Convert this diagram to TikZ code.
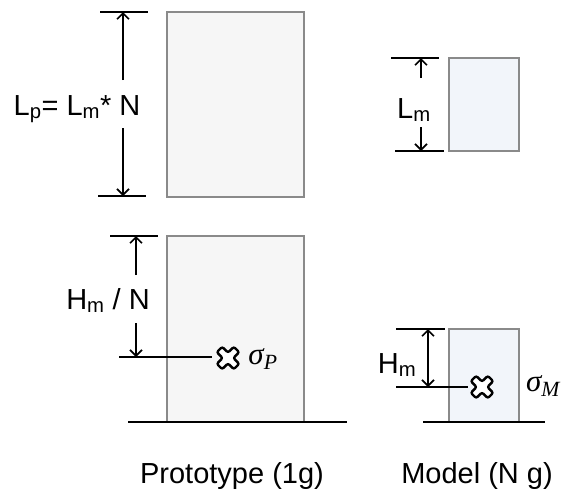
\documentclass[tikz,border=0pt]{standalone}
\usepackage{fontspec}
\setmainfont{Liberation Sans}
\newfontfamily\greekfont{Liberation Serif}
\usetikzlibrary{arrows.meta}

\definecolor{boxedge}{HTML}{8A8A8A}
\definecolor{protofill}{HTML}{F6F6F6}
\definecolor{modelfill}{HTML}{F2F5FA}

\tikzset{
  protobox/.style={draw=boxedge, line width=1.6pt, fill=protofill},
  modelbox/.style={protobox, fill=modelfill},
  tick/.style={line width=1.2pt},
  dim/.style={line width=1.8pt, -{Straight Barb[length=6pt,width=12pt,line width=1.6pt]}},
  dimboth/.style={dim, {Straight Barb[length=6pt,width=12pt,line width=1.6pt]}-{Straight Barb[length=6pt,width=12pt,line width=1.6pt]}},
  lbl/.style={font=\fontsize{29}{31}\selectfont, inner sep=0pt, anchor=base},
  sig/.style={font=\fontsize{31}{33}\selectfont\greekfont\itshape, inner sep=0pt, anchor=base},
  xmark/.pic={
    \draw[line width=2.4pt, fill=white, rounded corners=2pt, rotate=45]
      (3.8,12) -- (-3.8,12) -- (-3.8,3.8) -- (-12,3.8) -- (-12,-3.8)
      -- (-3.8,-3.8) -- (-3.8,-12) -- (3.8,-12) -- (3.8,-3.8)
      -- (12,-3.8) -- (12,3.8) -- (3.8,3.8) -- cycle;
  }
}

\begin{document}
\begin{tikzpicture}[x=1pt, y=-1pt]
    \useasboundingbox (0,0) rectangle (563,491);

    % Define box edges
    \def\protoL{167}
    \def\protoR{304}
    \def\modelL{449}
    \def\modelR{519}
    \def\ground{422}

    % =========================================================================
    % Prototype: length
    % =========================================================================
    \draw[protobox] (\protoL,12) rectangle (\protoR,197);

    \coordinate (lpTop) at (123,12);
    \coordinate (lpBot) at (123,196);
    \coordinate (lpA) at (123,80);
    \coordinate (lpB) at (123,128);
    \draw[tick] (100,12) -- (148,12);
    \draw[tick] (98,196) -- (146,196);
    \draw[dim] (lpA) -- (lpTop);
    \draw[dim] (lpB) -- (lpBot);
    \node[lbl] (lp) at (77,115) {L\textsubscript{p}= L\textsubscript{m}* N};

    % =========================================================================
    % Prototype: depth
    % =========================================================================
    \draw[protobox] (\protoL,236) rectangle (\protoR,\ground);
    \draw[tick] (128,\ground) -- (347,\ground);

    \coordinate (hpTop) at (136,236);
    \coordinate (hpBot) at (136,357);
    \coordinate (hpA) at (136,275);
    \coordinate (hpB) at (136,323);
    \draw[tick] (110,236) -- (158,236);
    \draw[tick] (119,357) -- (212,357);
    \draw[dim] (hpA) -- (hpTop);
    \draw[dim] (hpB) -- (hpBot);
    \node[lbl] (hp) at (108,309) {H\textsubscript{m} / N};

    \pic (crossP) at (228,358) {xmark};
    \node[sig] (sigP) at (263,364) {σ\textsubscript{P}};

    % =========================================================================
    % Model: length
    % =========================================================================
    \draw[modelbox] (\modelL,58) rectangle (\modelR,151);

    \coordinate (lmTop) at (421,58);
    \coordinate (lmBot) at (421,151);
    \coordinate (lmA) at (421,78);
    \coordinate (lmB) at (421,127);
    \draw[tick] (391,58) -- (439,58);
    \draw[tick] (395,151) -- (444,151);
    \draw[dim] (lmA) -- (lmTop);
    \draw[dim] (lmB) -- (lmBot);
    \node[lbl] (lm) at (414,118) {L\textsubscript{m}};

    % =========================================================================
    % Model: depth
    % =========================================================================
    \draw[modelbox] (\modelL,329) rectangle (\modelR,\ground);
    \draw[tick] (423,\ground) -- (545,\ground);

    \coordinate (hmTop) at (428,329);
    \coordinate (hmBot) at (428,387);
    \draw[tick] (396,329) -- (445,329);
    \draw[tick] (396,387) -- (468,387);
    \draw[dimboth] (hmTop) -- (hmBot);
    \node[lbl] (hm) at (397,373) {H\textsubscript{m}};

    \pic (crossM) at (482,387) {xmark};
    \node[sig] (sigM) at (543,391) {σ\textsubscript{M}};

    % =========================================================================
    % Captions
    % =========================================================================
    \node[lbl] (capP) at (232,483) {Prototype (1g)};
    \node[lbl] (capM) at (477,483) {Model (N g)};

\end{tikzpicture}
\end{document}
